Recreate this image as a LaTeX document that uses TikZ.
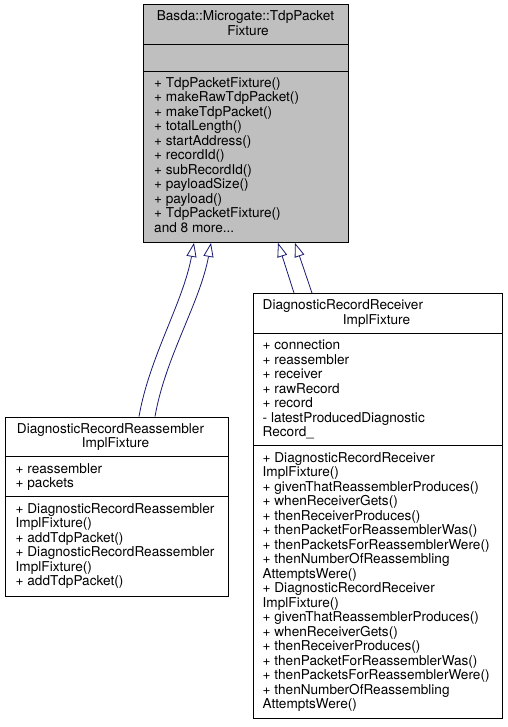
\documentclass[tikz,border=0pt]{standalone}
\usepackage{fontspec}
\setmainfont{TeX Gyre Heros}
\usetikzlibrary{arrows.meta,calc}
\definecolor{arrowblue}{HTML}{191970}
\definecolor{basegray}{HTML}{BFBFBF}
\newcommand\dxfs{\fontsize{13.6}{14.5}\selectfont}
\begin{document}
\begin{tikzpicture}[x=1pt,y=-1pt,
  umlbox/.style={draw=black, line width=0.9pt, inner sep=0pt, anchor=north west},
  txt/.style={font=\dxfs, inner sep=0pt, anchor=base west},
  ttl/.style={font=\dxfs, inner sep=0pt, anchor=base},
  sep/.style={draw=black, line width=0.9pt},
  inh/.style={draw=arrowblue, line width=0.8pt, -{Triangle[open,length=14pt,width=10pt]}}]
\useasboundingbox (0,0) rectangle (507,727);
% base class
\node[umlbox, fill=basegray, minimum width=205pt, minimum height=237.5pt] (base) at (143,4.5) {};
\draw[sep] ($(base.north west)+(0,40)$) -- ($(base.north east)+(0,40)$);
\draw[sep] ($(base.north west)+(0,66.5)$) -- ($(base.north east)+(0,66.5)$);
\node[ttl] (bt1) at (245.5,21) {Basda::Microgate::TdpPacket};
\node[ttl] (bt2) at (248,35.5) {Fixture};
\foreach [count=\i from 0] \t in {{+ TdpPacketFixture()},{+ makeRawTdpPacket()},{+ makeTdpPacket()},{+ totalLength()},{+ startAddress()},{+ recordId()},{+ subRecordId()},{+ payloadSize()},{+ payload()},{+ TdpPacketFixture()}}
  \node[txt] (bm\i) at (154,{87.5+14.5*\i}) {\t};
\node[txt] (bmore) at (154,{87.5+14.5*10}) {and 8 more...};
% reassembler fixture
\node[umlbox, fill=white, minimum width=223.5pt, minimum height=179pt] (reasm) at (4.5,416.5) {};
\draw[sep] ($(reasm.north west)+(0,40)$) -- ($(reasm.north east)+(0,40)$);
\draw[sep] ($(reasm.north west)+(0,80)$) -- ($(reasm.north east)+(0,80)$);
\node[ttl] (rt1) at (110.5,433) {DiagnosticRecordReassembler};
\node[ttl] (rt2) at (115.5,447.5) {ImplFixture};
\foreach [count=\i from 0] \t in {{+ reassembler},{+ packets}}
  \node[txt] (ra\i) at (15.5,{473+14.5*\i}) {\t};
\foreach [count=\i from 0] \t in {{+ DiagnosticRecordReassembler},{ImplFixture()},{+ addTdpPacket()},{+ DiagnosticRecordReassembler},{ImplFixture()},{+ addTdpPacket()}}
  \node[txt] (rm\i) at (15.5,{513+14.5*\i}) {\t};
% receiver fixture
\node[umlbox, fill=white, minimum width=249pt, minimum height=425pt] (recv) at (253,293) {};
\draw[sep] ($(recv.north west)+(0,40)$) -- ($(recv.north east)+(0,40)$);
\draw[sep] ($(recv.north west)+(0,152.5)$) -- ($(recv.north east)+(0,152.5)$);
\node[txt] (ct1) at (262.5,309.5) {DiagnosticRecordReceiver};
\node[ttl] (ct2) at (376.5,324) {ImplFixture};
\foreach [count=\i from 0] \t in {{+ connection},{+ reassembler},{+ receiver},{+ rawRecord},{+ record},{- latestProducedDiagnostic},{Record\_}}
  \node[txt] (ca\i) at (262.5,{349.5+14.5*\i}) {\t};
\foreach [count=\i from 0] \t in {{+ DiagnosticRecordReceiver},{ImplFixture()},{+ givenThatReassemblerProduces()},{+ whenReceiverGets()},{+ thenReceiverProduces()},{+ thenPacketForReassemblerWas()},{+ thenPacketsForReassemblerWere()},{+ thenNumberOfReassembling},{AttemptsWere()},{+ DiagnosticRecordReceiver},{ImplFixture()},{+ givenThatReassemblerProduces()},{+ whenReceiverGets()},{+ thenReceiverProduces()},{+ thenPacketForReassemblerWas()},{+ thenPacketsForReassemblerWere()},{+ thenNumberOfReassembling},{AttemptsWere()}}
  \node[txt] (cm\i) at (262.5,{462+14.5*\i}) {\t};
% inheritance connectors
\draw[inh] ($(reasm.north west)+(134.5,0)$) .. controls ($(reasm.north west)+(145,-60)$) and ($(base.south west)+(40,60)$) .. ($(base.south west)+(51,0)$);
\draw[inh] ($(reasm.north west)+(150.5,0)$) .. controls ($(reasm.north west)+(161,-60)$) and ($(base.south west)+(57,60)$) .. ($(base.south west)+(68,0)$);
\draw[inh] ($(recv.north west)+(41,0)$) -- ($(base.south west)+(135,0)$);
\draw[inh] ($(recv.north west)+(59,0)$) -- ($(base.south west)+(152,0)$);
\end{tikzpicture}
\end{document}
